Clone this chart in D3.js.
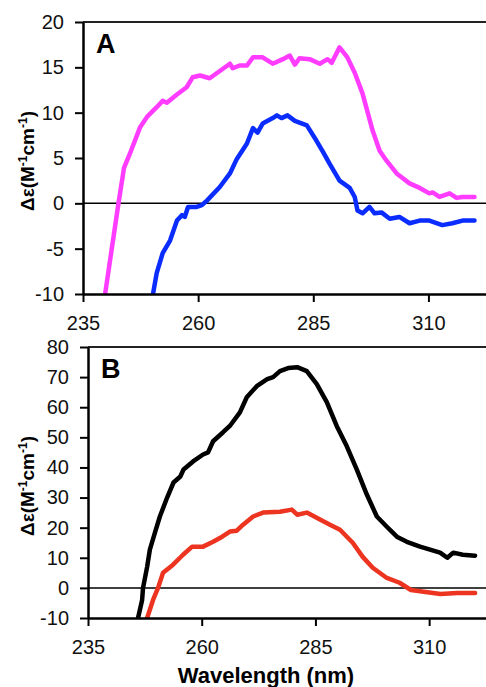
<!DOCTYPE html>
<html>
<head>
<meta charset="utf-8">
<style>
  body { margin: 0; background: #fff; }
  svg text { font-family: Arial, "Liberation Sans", sans-serif; }
</style>
</head>
<body>
<div id="viz"></div>
<script src="https://cdn.jsdelivr.net/npm/d3@7"></script>
<script>
  // CD spectra, [wavelength nm, delta epsilon]
  const magentaA = [[239.8,-10],[242.7,0],[243.9,3.9],[245.2,5.5],[247.4,8.4],[249.0,9.6],[251.0,10.6],[252.3,11.3],[253.2,11.1],[255.4,12.0],[257.5,12.8],[258.8,13.9],[260.4,14.1],[262.5,13.8],[264.7,14.6],[266.9,15.4],[267.5,14.9],[269.0,15.2],[270.6,15.2],[271.9,16.1],[274.0,16.1],[276.2,15.4],[278.4,15.9],[279.9,16.3],[281.0,15.3],[282.0,16.0],[284.2,15.9],[286.4,15.4],[288.1,15.9],[289.0,15.5],[290.7,17.2],[292.4,16.1],[294.0,14.4],[295.7,12.1],[297.9,8.0],[299.4,5.8],[300.9,4.7],[303.1,3.3],[305.9,2.2],[308.1,1.7],[310.2,1.1],[310.9,1.2],[312.4,0.7],[314.6,1.1],[316.1,0.6],[317.4,0.7],[320.0,0.7]];
  const blueA = [[250.2,-10],[251.0,-7.7],[252.3,-5.5],[253.9,-4.1],[255.4,-1.9],[256.5,-1.3],[257.1,-1.5],[257.8,-0.4],[259.7,-0.4],[260.8,-0.2],[261.9,0.3],[264.7,1.8],[266.9,3.3],[268.4,4.9],[270.6,6.6],[271.9,8.3],[272.9,7.8],[274.0,8.8],[276.2,9.4],[277.1,9.7],[278.1,9.4],[279.4,9.7],[281.0,9.1],[283.6,8.6],[285.7,6.9],[287.2,5.6],[288.5,4.4],[290.7,2.5],[292.9,1.7],[294.0,0.7],[294.6,-0.8],[295.7,-1.1],[297.2,-0.4],[298.3,-1.1],[299.8,-1.0],[301.6,-1.7],[303.7,-1.5],[305.9,-2.2],[308.1,-1.9],[310.2,-1.9],[313.0,-2.4],[315.2,-2.2],[317.4,-1.9],[320.0,-1.9]];
  const blackB = [[246.0,-10],[246.9,-4],[247.1,0],[248.0,7],[248.6,12.7],[249.7,18.3],[250.8,23.7],[252.4,30],[253.8,35],[255.3,37],[256.0,39.3],[258.1,42],[260.3,44.3],[261.4,45],[262.5,48.7],[264.7,51.7],[266.3,54],[268.4,58.3],[269.9,63.3],[272.1,67],[274.4,69.3],[275.7,70],[277.2,72],[279.0,73],[281.0,73.3],[283.1,72],[285.3,67.7],[287.5,61.7],[289.7,53.7],[291.9,47],[294.1,39.3],[296.3,31],[298.5,23.7],[300.7,20.3],[302.9,17],[305.1,15.3],[308.0,13.7],[310.2,12.7],[312.4,11.7],[314.0,10],[315.3,11.7],[317.4,11],[320.1,10.7]];
  const redB = [[248.0,-10],[249.3,-4],[250.4,0],[251.5,5],[253.7,7.7],[255.9,11],[257.9,13.7],[260.3,13.7],[262.5,15.3],[264.5,17],[266.2,18.7],[267.7,19],[269.1,21],[271.3,23.7],[273.5,25],[277.2,25.3],[279.8,26],[281.0,24.3],[283.1,25],[286.0,22.7],[288.2,21],[290.4,19.3],[293.2,15],[295.4,10.3],[297.6,6.7],[300.7,3.3],[303.5,1.7],[306.0,-0.7],[308.8,-1.3],[312.5,-2],[316.2,-1.7],[320.1,-1.7]];

  const xTicks = [235, 260, 285, 310];
  const yTicksA = [-10, -5, 0, 5, 10, 15, 20];
  const yTicksB = [-10, 0, 10, 20, 30, 40, 50, 60, 70, 80];

  const width = 486,
        height = 687;

  const svg = d3.select("#viz").append("svg")
      .attr("width", width)
      .attr("height", height);

  const panels = [
    { id: "A", left: 83, top: 22, bottom: 294, ydom: [-10, 20], yticks: yTicksA,
      series: [{ d: magentaA, c: "#ff3cff" }, { d: blueA, c: "#0a2cff" }], titleY: 161 },
    { id: "B", left: 88, top: 347, bottom: 618, ydom: [-10, 80], yticks: yTicksB,
      series: [{ d: blackB, c: "#000" }, { d: redB, c: "#ec3420" }], titleY: 486 }
  ];

  panels.forEach(p => {
    const x = d3.scaleLinear().domain([235, 322.5]).range([p.left, width]);
    const y = d3.scaleLinear().domain(p.ydom).range([p.bottom, p.top]);
    const g = svg.append("g");

    g.append("clipPath").attr("id", "clip" + p.id)
      .append("rect")
        .attr("x", p.left).attr("y", p.top)
        .attr("width", width - p.left).attr("height", p.bottom - p.top);

    // top border
    g.append("line")
        .attr("x1", p.left).attr("x2", width)
        .attr("y1", p.top).attr("y2", p.top)
        .attr("stroke", "#222").attr("stroke-width", 2);

    // zero line
    g.append("line")
        .attr("x1", p.left).attr("x2", width)
        .attr("y1", y(0)).attr("y2", y(0))
        .attr("stroke", "#000").attr("stroke-width", 1.5);

    const line = d3.line().x(d => x(d[0])).y(d => y(d[1]));

    g.append("g").attr("clip-path", `url(#clip${p.id})`)
      .selectAll("path")
      .data(p.series)
      .enter().append("path")
        .attr("d", s => line(s.d))
        .attr("fill", "none")
        .attr("stroke", s => s.c)
        .attr("stroke-width", 4.5)
        .attr("stroke-linejoin", "round")
        .attr("stroke-linecap", "round");

    const xAxis = g.append("g")
        .attr("transform", `translate(0,${p.bottom})`)
        .call(d3.axisBottom(x).tickValues(xTicks).tickFormat(d => String(d))
          .tickSizeInner(8).tickSizeOuter(0).tickPadding(14));
    const yAxis = g.append("g")
        .attr("transform", `translate(${p.left},0)`)
        .call(d3.axisLeft(y).tickValues(p.yticks).tickFormat(d => String(d))
          .tickSizeInner(8).tickSizeOuter(0).tickPadding(11));

    [xAxis, yAxis].forEach(a => {
      a.select(".domain").attr("stroke", "#000").attr("stroke-width", 2.5);
      a.selectAll(".tick line").attr("stroke", "#000").attr("stroke-width", 2);
      a.selectAll(".tick text").attr("font-size", 20).attr("fill", "#111")
        .style("font-family", "Arial, 'Liberation Sans', sans-serif");
    });

    g.append("text")
        .attr("x", p.left + 13)
        .attr("y", p.top + 31)
        .attr("font-size", 27)
        .attr("font-weight", "bold")
        .text(p.id);

    const title = g.append("text")
        .attr("transform", `translate(34,${p.titleY}) rotate(-90)`)
        .attr("text-anchor", "middle")
        .attr("font-size", 19)
        .attr("font-weight", "bold");
    title.append("tspan").text("\u0394\u03b5(M");
    title.append("tspan").attr("font-size", 12).attr("dy", -7).text("-1");
    title.append("tspan").attr("dy", 7).text("cm");
    title.append("tspan").attr("font-size", 12).attr("dy", -7).text("-1");
    title.append("tspan").attr("dy", 7).text(")");
  });

  svg.append("text")
      .attr("x", 266)
      .attr("y", 683)
      .attr("text-anchor", "middle")
      .attr("font-size", 22)
      .attr("font-weight", "bold")
      .text("Wavelength (nm)");
</script>
</body>
</html>
